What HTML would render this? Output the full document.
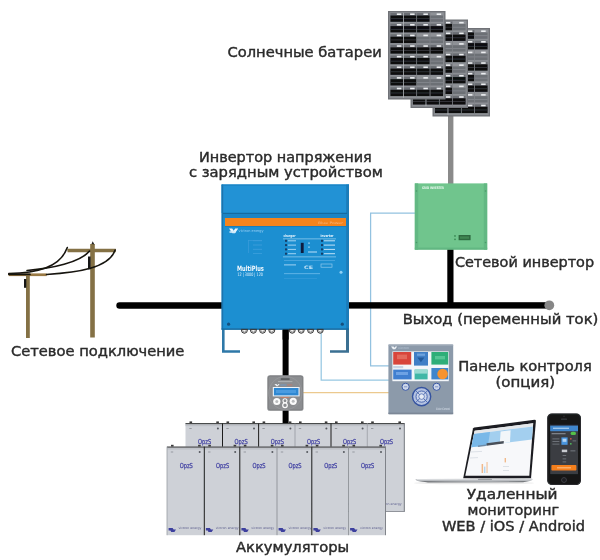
<!DOCTYPE html>
<html lang="ru"><head><meta charset="utf-8"><title>Схема</title>
<style>
html,body{margin:0;padding:0;background:#fff;}
body{width:600px;height:560px;overflow:hidden;position:relative;}
svg{position:absolute;left:0;top:0;display:block;}
text{font-family:"DejaVu Sans","Liberation Sans",sans-serif;}
.lbl{font-size:13.6px;fill:#2a2a2a;stroke:#2a2a2a;stroke-width:0.4px;}
</style></head><body>
<svg width="600" height="560" viewBox="0 0 600 560">
<defs>
<filter id="soft" x="-5%" y="-5%" width="110%" height="110%"><feGaussianBlur stdDeviation="0.45"/></filter>
<filter id="softt" x="-5%" y="-20%" width="110%" height="140%"><feGaussianBlur stdDeviation="0.32"/></filter>
</defs>
<rect width="600" height="560" fill="#ffffff"/>

<g fill="none" stroke-width="1.25" filter="url(#soft)">
<path d="M415 213.2H370.6V365.8H389" stroke="#93c2e0"/>
<path d="M321.2 330V380H389" stroke="#97c8e2"/>
<path d="M303 392.5H389" stroke="#ecc98e"/>
</g>
<g filter="url(#soft)">
<rect x="448" y="112" width="5.4" height="73" fill="#8a8a8a"/>
<path d="M119.5 305.5H223" stroke="#000" stroke-width="6.4" stroke-linecap="round" fill="none"/>
<rect x="348" y="302.2" width="198" height="6.4" fill="#000"/>
<circle cx="549.3" cy="305.3" r="4.9" fill="#878787"/>
<rect x="447.3" y="248" width="6.2" height="57" fill="#000"/>
<rect x="282.6" y="329" width="6" height="95" fill="#000"/>
</g>
<g filter="url(#soft)">
<g transform="translate(432.5,28)"><rect x="0" y="0" width="57.5" height="88.5" fill="#6f7277"/><rect x="1.3" y="1.3" width="54.9" height="85.9" fill="#8b8e93"/><rect x="2.40" y="2.00" width="12.88" height="2.7" fill="#6a6d73"/><rect x="2.40" y="4.50" width="12.88" height="6.3" fill="#0b0c0f"/><rect x="2.40" y="7.30" width="12.88" height="0.8" fill="#3a3d42"/><rect x="8.84" y="2.40" width="4.51" height="1.6" fill="#eceef0"/><rect x="15.68" y="2.00" width="12.88" height="2.7" fill="#6a6d73"/><rect x="15.68" y="4.50" width="12.88" height="6.3" fill="#0b0c0f"/><rect x="15.68" y="7.30" width="12.88" height="0.8" fill="#3a3d42"/><rect x="22.11" y="2.40" width="4.51" height="1.6" fill="#eceef0"/><rect x="28.95" y="2.00" width="12.88" height="2.7" fill="#6a6d73"/><rect x="28.95" y="4.50" width="12.88" height="6.3" fill="#0b0c0f"/><rect x="28.95" y="7.30" width="12.88" height="0.8" fill="#3a3d42"/><rect x="35.39" y="2.40" width="4.51" height="1.6" fill="#eceef0"/><rect x="42.23" y="2.00" width="12.88" height="2.7" fill="#8f9297"/><rect x="42.23" y="4.50" width="12.88" height="6.3" fill="#6c6f75"/><rect x="42.23" y="7.30" width="12.88" height="0.8" fill="#878a90"/><rect x="48.66" y="2.40" width="4.51" height="1.6" fill="#eceef0"/><rect x="2.40" y="12.61" width="12.88" height="2.7" fill="#6a6d73"/><rect x="2.40" y="15.11" width="12.88" height="6.3" fill="#0b0c0f"/><rect x="2.40" y="17.91" width="12.88" height="0.8" fill="#3a3d42"/><rect x="8.84" y="13.01" width="4.51" height="1.6" fill="#eceef0"/><rect x="15.68" y="12.61" width="12.88" height="2.7" fill="#6a6d73"/><rect x="15.68" y="15.11" width="12.88" height="6.3" fill="#0b0c0f"/><rect x="15.68" y="17.91" width="12.88" height="0.8" fill="#3a3d42"/><rect x="22.11" y="13.01" width="4.51" height="1.6" fill="#eceef0"/><rect x="28.95" y="12.61" width="12.88" height="2.7" fill="#6a6d73"/><rect x="28.95" y="15.11" width="12.88" height="6.3" fill="#0b0c0f"/><rect x="28.95" y="17.91" width="12.88" height="0.8" fill="#3a3d42"/><rect x="35.39" y="13.01" width="4.51" height="1.6" fill="#eceef0"/><rect x="42.23" y="12.61" width="12.88" height="2.7" fill="#6a6d73"/><rect x="42.23" y="15.11" width="12.88" height="6.3" fill="#0b0c0f"/><rect x="42.23" y="17.91" width="12.88" height="0.8" fill="#3a3d42"/><rect x="48.66" y="13.01" width="4.51" height="1.6" fill="#eceef0"/><rect x="2.40" y="23.23" width="12.88" height="2.7" fill="#6a6d73"/><rect x="2.40" y="25.73" width="12.88" height="6.3" fill="#0b0c0f"/><rect x="2.40" y="28.53" width="12.88" height="0.8" fill="#3a3d42"/><rect x="8.84" y="23.63" width="4.51" height="1.6" fill="#eceef0"/><rect x="15.68" y="23.23" width="12.88" height="2.7" fill="#6a6d73"/><rect x="15.68" y="25.73" width="12.88" height="6.3" fill="#0b0c0f"/><rect x="15.68" y="28.53" width="12.88" height="0.8" fill="#3a3d42"/><rect x="22.11" y="23.63" width="4.51" height="1.6" fill="#eceef0"/><rect x="28.95" y="23.23" width="12.88" height="2.7" fill="#8f9297"/><rect x="28.95" y="25.73" width="12.88" height="6.3" fill="#6c6f75"/><rect x="28.95" y="28.53" width="12.88" height="0.8" fill="#878a90"/><rect x="35.39" y="23.63" width="4.51" height="1.6" fill="#eceef0"/><rect x="42.23" y="23.23" width="12.88" height="2.7" fill="#8f9297"/><rect x="42.23" y="25.73" width="12.88" height="6.3" fill="#6c6f75"/><rect x="42.23" y="28.53" width="12.88" height="0.8" fill="#878a90"/><rect x="48.66" y="23.63" width="4.51" height="1.6" fill="#eceef0"/><rect x="2.40" y="33.84" width="12.88" height="2.7" fill="#6a6d73"/><rect x="2.40" y="36.34" width="12.88" height="6.3" fill="#0b0c0f"/><rect x="2.40" y="39.14" width="12.88" height="0.8" fill="#3a3d42"/><rect x="8.84" y="34.24" width="4.51" height="1.6" fill="#eceef0"/><rect x="15.68" y="33.84" width="12.88" height="2.7" fill="#6a6d73"/><rect x="15.68" y="36.34" width="12.88" height="6.3" fill="#0b0c0f"/><rect x="15.68" y="39.14" width="12.88" height="0.8" fill="#3a3d42"/><rect x="22.11" y="34.24" width="4.51" height="1.6" fill="#eceef0"/><rect x="28.95" y="33.84" width="12.88" height="2.7" fill="#6a6d73"/><rect x="28.95" y="36.34" width="12.88" height="6.3" fill="#0b0c0f"/><rect x="28.95" y="39.14" width="12.88" height="0.8" fill="#3a3d42"/><rect x="35.39" y="34.24" width="4.51" height="1.6" fill="#eceef0"/><rect x="42.23" y="33.84" width="12.88" height="2.7" fill="#6a6d73"/><rect x="42.23" y="36.34" width="12.88" height="6.3" fill="#0b0c0f"/><rect x="42.23" y="39.14" width="12.88" height="0.8" fill="#3a3d42"/><rect x="48.66" y="34.24" width="4.51" height="1.6" fill="#eceef0"/><rect x="2.40" y="44.45" width="12.88" height="2.7" fill="#6a6d73"/><rect x="2.40" y="46.95" width="12.88" height="6.3" fill="#0b0c0f"/><rect x="2.40" y="49.75" width="12.88" height="0.8" fill="#3a3d42"/><rect x="8.84" y="44.85" width="4.51" height="1.6" fill="#eceef0"/><rect x="15.68" y="44.45" width="12.88" height="2.7" fill="#6a6d73"/><rect x="15.68" y="46.95" width="12.88" height="6.3" fill="#0b0c0f"/><rect x="15.68" y="49.75" width="12.88" height="0.8" fill="#3a3d42"/><rect x="22.11" y="44.85" width="4.51" height="1.6" fill="#eceef0"/><rect x="28.95" y="44.45" width="12.88" height="2.7" fill="#6a6d73"/><rect x="28.95" y="46.95" width="12.88" height="6.3" fill="#0b0c0f"/><rect x="28.95" y="49.75" width="12.88" height="0.8" fill="#3a3d42"/><rect x="35.39" y="44.85" width="4.51" height="1.6" fill="#eceef0"/><rect x="42.23" y="44.45" width="12.88" height="2.7" fill="#8f9297"/><rect x="42.23" y="46.95" width="12.88" height="6.3" fill="#6c6f75"/><rect x="42.23" y="49.75" width="12.88" height="0.8" fill="#878a90"/><rect x="48.66" y="44.85" width="4.51" height="1.6" fill="#eceef0"/><rect x="2.40" y="55.06" width="12.88" height="2.7" fill="#6a6d73"/><rect x="2.40" y="57.56" width="12.88" height="6.3" fill="#0b0c0f"/><rect x="2.40" y="60.36" width="12.88" height="0.8" fill="#3a3d42"/><rect x="8.84" y="55.46" width="4.51" height="1.6" fill="#eceef0"/><rect x="15.68" y="55.06" width="12.88" height="2.7" fill="#6a6d73"/><rect x="15.68" y="57.56" width="12.88" height="6.3" fill="#0b0c0f"/><rect x="15.68" y="60.36" width="12.88" height="0.8" fill="#3a3d42"/><rect x="22.11" y="55.46" width="4.51" height="1.6" fill="#eceef0"/><rect x="28.95" y="55.06" width="12.88" height="2.7" fill="#6a6d73"/><rect x="28.95" y="57.56" width="12.88" height="6.3" fill="#0b0c0f"/><rect x="28.95" y="60.36" width="12.88" height="0.8" fill="#3a3d42"/><rect x="35.39" y="55.46" width="4.51" height="1.6" fill="#eceef0"/><rect x="42.23" y="55.06" width="12.88" height="2.7" fill="#6a6d73"/><rect x="42.23" y="57.56" width="12.88" height="6.3" fill="#0b0c0f"/><rect x="42.23" y="60.36" width="12.88" height="0.8" fill="#3a3d42"/><rect x="48.66" y="55.46" width="4.51" height="1.6" fill="#eceef0"/><rect x="2.40" y="65.68" width="12.88" height="2.7" fill="#6a6d73"/><rect x="2.40" y="68.18" width="12.88" height="6.3" fill="#0b0c0f"/><rect x="2.40" y="70.98" width="12.88" height="0.8" fill="#3a3d42"/><rect x="8.84" y="66.08" width="4.51" height="1.6" fill="#eceef0"/><rect x="15.68" y="65.68" width="12.88" height="2.7" fill="#6a6d73"/><rect x="15.68" y="68.18" width="12.88" height="6.3" fill="#0b0c0f"/><rect x="15.68" y="70.98" width="12.88" height="0.8" fill="#3a3d42"/><rect x="22.11" y="66.08" width="4.51" height="1.6" fill="#eceef0"/><rect x="28.95" y="65.68" width="12.88" height="2.7" fill="#8f9297"/><rect x="28.95" y="68.18" width="12.88" height="6.3" fill="#6c6f75"/><rect x="28.95" y="70.98" width="12.88" height="0.8" fill="#878a90"/><rect x="35.39" y="66.08" width="4.51" height="1.6" fill="#eceef0"/><rect x="42.23" y="65.68" width="12.88" height="2.7" fill="#8f9297"/><rect x="42.23" y="68.18" width="12.88" height="6.3" fill="#6c6f75"/><rect x="42.23" y="70.98" width="12.88" height="0.8" fill="#878a90"/><rect x="48.66" y="66.08" width="4.51" height="1.6" fill="#eceef0"/><rect x="2.40" y="76.29" width="12.88" height="2.7" fill="#6a6d73"/><rect x="2.40" y="78.79" width="12.88" height="6.3" fill="#0b0c0f"/><rect x="2.40" y="81.59" width="12.88" height="0.8" fill="#3a3d42"/><rect x="8.84" y="76.69" width="4.51" height="1.6" fill="#eceef0"/><rect x="15.68" y="76.29" width="12.88" height="2.7" fill="#6a6d73"/><rect x="15.68" y="78.79" width="12.88" height="6.3" fill="#0b0c0f"/><rect x="15.68" y="81.59" width="12.88" height="0.8" fill="#3a3d42"/><rect x="22.11" y="76.69" width="4.51" height="1.6" fill="#eceef0"/><rect x="28.95" y="76.29" width="12.88" height="2.7" fill="#6a6d73"/><rect x="28.95" y="78.79" width="12.88" height="6.3" fill="#0b0c0f"/><rect x="28.95" y="81.59" width="12.88" height="0.8" fill="#3a3d42"/><rect x="35.39" y="76.69" width="4.51" height="1.6" fill="#eceef0"/><rect x="42.23" y="76.29" width="12.88" height="2.7" fill="#6a6d73"/><rect x="42.23" y="78.79" width="12.88" height="6.3" fill="#0b0c0f"/><rect x="42.23" y="81.59" width="12.88" height="0.8" fill="#3a3d42"/><rect x="48.66" y="76.69" width="4.51" height="1.6" fill="#eceef0"/><rect x="15.18" y="1.8" width="0.6" height="84.9" fill="#c4c7ca"/><rect x="28.45" y="1.8" width="0.6" height="84.9" fill="#7f8287"/><rect x="41.73" y="1.8" width="0.6" height="84.9" fill="#7f8287"/></g>
<g transform="translate(410.5,19.5)"><rect x="0" y="0" width="57.5" height="88.5" fill="#6f7277"/><rect x="1.3" y="1.3" width="54.9" height="85.9" fill="#8b8e93"/><rect x="2.40" y="2.00" width="12.88" height="2.7" fill="#6a6d73"/><rect x="2.40" y="4.50" width="12.88" height="6.3" fill="#0b0c0f"/><rect x="2.40" y="7.30" width="12.88" height="0.8" fill="#3a3d42"/><rect x="8.84" y="2.40" width="4.51" height="1.6" fill="#eceef0"/><rect x="15.68" y="2.00" width="12.88" height="2.7" fill="#6a6d73"/><rect x="15.68" y="4.50" width="12.88" height="6.3" fill="#0b0c0f"/><rect x="15.68" y="7.30" width="12.88" height="0.8" fill="#3a3d42"/><rect x="22.11" y="2.40" width="4.51" height="1.6" fill="#eceef0"/><rect x="28.95" y="2.00" width="12.88" height="2.7" fill="#6a6d73"/><rect x="28.95" y="4.50" width="12.88" height="6.3" fill="#0b0c0f"/><rect x="28.95" y="7.30" width="12.88" height="0.8" fill="#3a3d42"/><rect x="35.39" y="2.40" width="4.51" height="1.6" fill="#eceef0"/><rect x="42.23" y="2.00" width="12.88" height="2.7" fill="#8f9297"/><rect x="42.23" y="4.50" width="12.88" height="6.3" fill="#6c6f75"/><rect x="42.23" y="7.30" width="12.88" height="0.8" fill="#878a90"/><rect x="48.66" y="2.40" width="4.51" height="1.6" fill="#eceef0"/><rect x="2.40" y="12.61" width="12.88" height="2.7" fill="#6a6d73"/><rect x="2.40" y="15.11" width="12.88" height="6.3" fill="#0b0c0f"/><rect x="2.40" y="17.91" width="12.88" height="0.8" fill="#3a3d42"/><rect x="8.84" y="13.01" width="4.51" height="1.6" fill="#eceef0"/><rect x="15.68" y="12.61" width="12.88" height="2.7" fill="#6a6d73"/><rect x="15.68" y="15.11" width="12.88" height="6.3" fill="#0b0c0f"/><rect x="15.68" y="17.91" width="12.88" height="0.8" fill="#3a3d42"/><rect x="22.11" y="13.01" width="4.51" height="1.6" fill="#eceef0"/><rect x="28.95" y="12.61" width="12.88" height="2.7" fill="#6a6d73"/><rect x="28.95" y="15.11" width="12.88" height="6.3" fill="#0b0c0f"/><rect x="28.95" y="17.91" width="12.88" height="0.8" fill="#3a3d42"/><rect x="35.39" y="13.01" width="4.51" height="1.6" fill="#eceef0"/><rect x="42.23" y="12.61" width="12.88" height="2.7" fill="#6a6d73"/><rect x="42.23" y="15.11" width="12.88" height="6.3" fill="#0b0c0f"/><rect x="42.23" y="17.91" width="12.88" height="0.8" fill="#3a3d42"/><rect x="48.66" y="13.01" width="4.51" height="1.6" fill="#eceef0"/><rect x="2.40" y="23.23" width="12.88" height="2.7" fill="#6a6d73"/><rect x="2.40" y="25.73" width="12.88" height="6.3" fill="#0b0c0f"/><rect x="2.40" y="28.53" width="12.88" height="0.8" fill="#3a3d42"/><rect x="8.84" y="23.63" width="4.51" height="1.6" fill="#eceef0"/><rect x="15.68" y="23.23" width="12.88" height="2.7" fill="#6a6d73"/><rect x="15.68" y="25.73" width="12.88" height="6.3" fill="#0b0c0f"/><rect x="15.68" y="28.53" width="12.88" height="0.8" fill="#3a3d42"/><rect x="22.11" y="23.63" width="4.51" height="1.6" fill="#eceef0"/><rect x="28.95" y="23.23" width="12.88" height="2.7" fill="#8f9297"/><rect x="28.95" y="25.73" width="12.88" height="6.3" fill="#6c6f75"/><rect x="28.95" y="28.53" width="12.88" height="0.8" fill="#878a90"/><rect x="35.39" y="23.63" width="4.51" height="1.6" fill="#eceef0"/><rect x="42.23" y="23.23" width="12.88" height="2.7" fill="#8f9297"/><rect x="42.23" y="25.73" width="12.88" height="6.3" fill="#6c6f75"/><rect x="42.23" y="28.53" width="12.88" height="0.8" fill="#878a90"/><rect x="48.66" y="23.63" width="4.51" height="1.6" fill="#eceef0"/><rect x="2.40" y="33.84" width="12.88" height="2.7" fill="#6a6d73"/><rect x="2.40" y="36.34" width="12.88" height="6.3" fill="#0b0c0f"/><rect x="2.40" y="39.14" width="12.88" height="0.8" fill="#3a3d42"/><rect x="8.84" y="34.24" width="4.51" height="1.6" fill="#eceef0"/><rect x="15.68" y="33.84" width="12.88" height="2.7" fill="#6a6d73"/><rect x="15.68" y="36.34" width="12.88" height="6.3" fill="#0b0c0f"/><rect x="15.68" y="39.14" width="12.88" height="0.8" fill="#3a3d42"/><rect x="22.11" y="34.24" width="4.51" height="1.6" fill="#eceef0"/><rect x="28.95" y="33.84" width="12.88" height="2.7" fill="#6a6d73"/><rect x="28.95" y="36.34" width="12.88" height="6.3" fill="#0b0c0f"/><rect x="28.95" y="39.14" width="12.88" height="0.8" fill="#3a3d42"/><rect x="35.39" y="34.24" width="4.51" height="1.6" fill="#eceef0"/><rect x="42.23" y="33.84" width="12.88" height="2.7" fill="#6a6d73"/><rect x="42.23" y="36.34" width="12.88" height="6.3" fill="#0b0c0f"/><rect x="42.23" y="39.14" width="12.88" height="0.8" fill="#3a3d42"/><rect x="48.66" y="34.24" width="4.51" height="1.6" fill="#eceef0"/><rect x="2.40" y="44.45" width="12.88" height="2.7" fill="#6a6d73"/><rect x="2.40" y="46.95" width="12.88" height="6.3" fill="#0b0c0f"/><rect x="2.40" y="49.75" width="12.88" height="0.8" fill="#3a3d42"/><rect x="8.84" y="44.85" width="4.51" height="1.6" fill="#eceef0"/><rect x="15.68" y="44.45" width="12.88" height="2.7" fill="#6a6d73"/><rect x="15.68" y="46.95" width="12.88" height="6.3" fill="#0b0c0f"/><rect x="15.68" y="49.75" width="12.88" height="0.8" fill="#3a3d42"/><rect x="22.11" y="44.85" width="4.51" height="1.6" fill="#eceef0"/><rect x="28.95" y="44.45" width="12.88" height="2.7" fill="#6a6d73"/><rect x="28.95" y="46.95" width="12.88" height="6.3" fill="#0b0c0f"/><rect x="28.95" y="49.75" width="12.88" height="0.8" fill="#3a3d42"/><rect x="35.39" y="44.85" width="4.51" height="1.6" fill="#eceef0"/><rect x="42.23" y="44.45" width="12.88" height="2.7" fill="#8f9297"/><rect x="42.23" y="46.95" width="12.88" height="6.3" fill="#6c6f75"/><rect x="42.23" y="49.75" width="12.88" height="0.8" fill="#878a90"/><rect x="48.66" y="44.85" width="4.51" height="1.6" fill="#eceef0"/><rect x="2.40" y="55.06" width="12.88" height="2.7" fill="#6a6d73"/><rect x="2.40" y="57.56" width="12.88" height="6.3" fill="#0b0c0f"/><rect x="2.40" y="60.36" width="12.88" height="0.8" fill="#3a3d42"/><rect x="8.84" y="55.46" width="4.51" height="1.6" fill="#eceef0"/><rect x="15.68" y="55.06" width="12.88" height="2.7" fill="#6a6d73"/><rect x="15.68" y="57.56" width="12.88" height="6.3" fill="#0b0c0f"/><rect x="15.68" y="60.36" width="12.88" height="0.8" fill="#3a3d42"/><rect x="22.11" y="55.46" width="4.51" height="1.6" fill="#eceef0"/><rect x="28.95" y="55.06" width="12.88" height="2.7" fill="#6a6d73"/><rect x="28.95" y="57.56" width="12.88" height="6.3" fill="#0b0c0f"/><rect x="28.95" y="60.36" width="12.88" height="0.8" fill="#3a3d42"/><rect x="35.39" y="55.46" width="4.51" height="1.6" fill="#eceef0"/><rect x="42.23" y="55.06" width="12.88" height="2.7" fill="#6a6d73"/><rect x="42.23" y="57.56" width="12.88" height="6.3" fill="#0b0c0f"/><rect x="42.23" y="60.36" width="12.88" height="0.8" fill="#3a3d42"/><rect x="48.66" y="55.46" width="4.51" height="1.6" fill="#eceef0"/><rect x="2.40" y="65.68" width="12.88" height="2.7" fill="#6a6d73"/><rect x="2.40" y="68.18" width="12.88" height="6.3" fill="#0b0c0f"/><rect x="2.40" y="70.98" width="12.88" height="0.8" fill="#3a3d42"/><rect x="8.84" y="66.08" width="4.51" height="1.6" fill="#eceef0"/><rect x="15.68" y="65.68" width="12.88" height="2.7" fill="#6a6d73"/><rect x="15.68" y="68.18" width="12.88" height="6.3" fill="#0b0c0f"/><rect x="15.68" y="70.98" width="12.88" height="0.8" fill="#3a3d42"/><rect x="22.11" y="66.08" width="4.51" height="1.6" fill="#eceef0"/><rect x="28.95" y="65.68" width="12.88" height="2.7" fill="#6a6d73"/><rect x="28.95" y="68.18" width="12.88" height="6.3" fill="#0b0c0f"/><rect x="28.95" y="70.98" width="12.88" height="0.8" fill="#3a3d42"/><rect x="35.39" y="66.08" width="4.51" height="1.6" fill="#eceef0"/><rect x="42.23" y="65.68" width="12.88" height="2.7" fill="#8f9297"/><rect x="42.23" y="68.18" width="12.88" height="6.3" fill="#6c6f75"/><rect x="42.23" y="70.98" width="12.88" height="0.8" fill="#878a90"/><rect x="48.66" y="66.08" width="4.51" height="1.6" fill="#eceef0"/><rect x="2.40" y="76.29" width="12.88" height="2.7" fill="#6a6d73"/><rect x="2.40" y="78.79" width="12.88" height="6.3" fill="#0b0c0f"/><rect x="2.40" y="81.59" width="12.88" height="0.8" fill="#3a3d42"/><rect x="8.84" y="76.69" width="4.51" height="1.6" fill="#eceef0"/><rect x="15.68" y="76.29" width="12.88" height="2.7" fill="#6a6d73"/><rect x="15.68" y="78.79" width="12.88" height="6.3" fill="#0b0c0f"/><rect x="15.68" y="81.59" width="12.88" height="0.8" fill="#3a3d42"/><rect x="22.11" y="76.69" width="4.51" height="1.6" fill="#eceef0"/><rect x="28.95" y="76.29" width="12.88" height="2.7" fill="#6a6d73"/><rect x="28.95" y="78.79" width="12.88" height="6.3" fill="#0b0c0f"/><rect x="28.95" y="81.59" width="12.88" height="0.8" fill="#3a3d42"/><rect x="35.39" y="76.69" width="4.51" height="1.6" fill="#eceef0"/><rect x="42.23" y="76.29" width="12.88" height="2.7" fill="#6a6d73"/><rect x="42.23" y="78.79" width="12.88" height="6.3" fill="#0b0c0f"/><rect x="42.23" y="81.59" width="12.88" height="0.8" fill="#3a3d42"/><rect x="48.66" y="76.69" width="4.51" height="1.6" fill="#eceef0"/><rect x="15.18" y="1.8" width="0.6" height="84.9" fill="#c4c7ca"/><rect x="28.45" y="1.8" width="0.6" height="84.9" fill="#7f8287"/><rect x="41.73" y="1.8" width="0.6" height="84.9" fill="#7f8287"/></g>
<g transform="translate(388,11)"><rect x="0" y="0" width="57.5" height="88.5" fill="#6f7277"/><rect x="1.3" y="1.3" width="54.9" height="85.9" fill="#8b8e93"/><rect x="2.40" y="2.00" width="12.88" height="2.7" fill="#6a6d73"/><rect x="2.40" y="4.50" width="12.88" height="6.3" fill="#0b0c0f"/><rect x="2.40" y="7.30" width="12.88" height="0.8" fill="#3a3d42"/><rect x="8.84" y="2.40" width="4.51" height="1.6" fill="#eceef0"/><rect x="15.68" y="2.00" width="12.88" height="2.7" fill="#6a6d73"/><rect x="15.68" y="4.50" width="12.88" height="6.3" fill="#0b0c0f"/><rect x="15.68" y="7.30" width="12.88" height="0.8" fill="#3a3d42"/><rect x="22.11" y="2.40" width="4.51" height="1.6" fill="#eceef0"/><rect x="28.95" y="2.00" width="12.88" height="2.7" fill="#6a6d73"/><rect x="28.95" y="4.50" width="12.88" height="6.3" fill="#0b0c0f"/><rect x="28.95" y="7.30" width="12.88" height="0.8" fill="#3a3d42"/><rect x="35.39" y="2.40" width="4.51" height="1.6" fill="#eceef0"/><rect x="42.23" y="2.00" width="12.88" height="2.7" fill="#8f9297"/><rect x="42.23" y="4.50" width="12.88" height="6.3" fill="#6c6f75"/><rect x="42.23" y="7.30" width="12.88" height="0.8" fill="#878a90"/><rect x="48.66" y="2.40" width="4.51" height="1.6" fill="#eceef0"/><rect x="2.40" y="12.61" width="12.88" height="2.7" fill="#6a6d73"/><rect x="2.40" y="15.11" width="12.88" height="6.3" fill="#0b0c0f"/><rect x="2.40" y="17.91" width="12.88" height="0.8" fill="#3a3d42"/><rect x="8.84" y="13.01" width="4.51" height="1.6" fill="#eceef0"/><rect x="15.68" y="12.61" width="12.88" height="2.7" fill="#6a6d73"/><rect x="15.68" y="15.11" width="12.88" height="6.3" fill="#0b0c0f"/><rect x="15.68" y="17.91" width="12.88" height="0.8" fill="#3a3d42"/><rect x="22.11" y="13.01" width="4.51" height="1.6" fill="#eceef0"/><rect x="28.95" y="12.61" width="12.88" height="2.7" fill="#6a6d73"/><rect x="28.95" y="15.11" width="12.88" height="6.3" fill="#0b0c0f"/><rect x="28.95" y="17.91" width="12.88" height="0.8" fill="#3a3d42"/><rect x="35.39" y="13.01" width="4.51" height="1.6" fill="#eceef0"/><rect x="42.23" y="12.61" width="12.88" height="2.7" fill="#6a6d73"/><rect x="42.23" y="15.11" width="12.88" height="6.3" fill="#0b0c0f"/><rect x="42.23" y="17.91" width="12.88" height="0.8" fill="#3a3d42"/><rect x="48.66" y="13.01" width="4.51" height="1.6" fill="#eceef0"/><rect x="2.40" y="23.23" width="12.88" height="2.7" fill="#6a6d73"/><rect x="2.40" y="25.73" width="12.88" height="6.3" fill="#0b0c0f"/><rect x="2.40" y="28.53" width="12.88" height="0.8" fill="#3a3d42"/><rect x="8.84" y="23.63" width="4.51" height="1.6" fill="#eceef0"/><rect x="15.68" y="23.23" width="12.88" height="2.7" fill="#6a6d73"/><rect x="15.68" y="25.73" width="12.88" height="6.3" fill="#0b0c0f"/><rect x="15.68" y="28.53" width="12.88" height="0.8" fill="#3a3d42"/><rect x="22.11" y="23.63" width="4.51" height="1.6" fill="#eceef0"/><rect x="28.95" y="23.23" width="12.88" height="2.7" fill="#8f9297"/><rect x="28.95" y="25.73" width="12.88" height="6.3" fill="#6c6f75"/><rect x="28.95" y="28.53" width="12.88" height="0.8" fill="#878a90"/><rect x="35.39" y="23.63" width="4.51" height="1.6" fill="#eceef0"/><rect x="42.23" y="23.23" width="12.88" height="2.7" fill="#8f9297"/><rect x="42.23" y="25.73" width="12.88" height="6.3" fill="#6c6f75"/><rect x="42.23" y="28.53" width="12.88" height="0.8" fill="#878a90"/><rect x="48.66" y="23.63" width="4.51" height="1.6" fill="#eceef0"/><rect x="2.40" y="33.84" width="12.88" height="2.7" fill="#6a6d73"/><rect x="2.40" y="36.34" width="12.88" height="6.3" fill="#0b0c0f"/><rect x="2.40" y="39.14" width="12.88" height="0.8" fill="#3a3d42"/><rect x="8.84" y="34.24" width="4.51" height="1.6" fill="#eceef0"/><rect x="15.68" y="33.84" width="12.88" height="2.7" fill="#6a6d73"/><rect x="15.68" y="36.34" width="12.88" height="6.3" fill="#0b0c0f"/><rect x="15.68" y="39.14" width="12.88" height="0.8" fill="#3a3d42"/><rect x="22.11" y="34.24" width="4.51" height="1.6" fill="#eceef0"/><rect x="28.95" y="33.84" width="12.88" height="2.7" fill="#6a6d73"/><rect x="28.95" y="36.34" width="12.88" height="6.3" fill="#0b0c0f"/><rect x="28.95" y="39.14" width="12.88" height="0.8" fill="#3a3d42"/><rect x="35.39" y="34.24" width="4.51" height="1.6" fill="#eceef0"/><rect x="42.23" y="33.84" width="12.88" height="2.7" fill="#6a6d73"/><rect x="42.23" y="36.34" width="12.88" height="6.3" fill="#0b0c0f"/><rect x="42.23" y="39.14" width="12.88" height="0.8" fill="#3a3d42"/><rect x="48.66" y="34.24" width="4.51" height="1.6" fill="#eceef0"/><rect x="2.40" y="44.45" width="12.88" height="2.7" fill="#6a6d73"/><rect x="2.40" y="46.95" width="12.88" height="6.3" fill="#0b0c0f"/><rect x="2.40" y="49.75" width="12.88" height="0.8" fill="#3a3d42"/><rect x="8.84" y="44.85" width="4.51" height="1.6" fill="#eceef0"/><rect x="15.68" y="44.45" width="12.88" height="2.7" fill="#6a6d73"/><rect x="15.68" y="46.95" width="12.88" height="6.3" fill="#0b0c0f"/><rect x="15.68" y="49.75" width="12.88" height="0.8" fill="#3a3d42"/><rect x="22.11" y="44.85" width="4.51" height="1.6" fill="#eceef0"/><rect x="28.95" y="44.45" width="12.88" height="2.7" fill="#6a6d73"/><rect x="28.95" y="46.95" width="12.88" height="6.3" fill="#0b0c0f"/><rect x="28.95" y="49.75" width="12.88" height="0.8" fill="#3a3d42"/><rect x="35.39" y="44.85" width="4.51" height="1.6" fill="#eceef0"/><rect x="42.23" y="44.45" width="12.88" height="2.7" fill="#8f9297"/><rect x="42.23" y="46.95" width="12.88" height="6.3" fill="#6c6f75"/><rect x="42.23" y="49.75" width="12.88" height="0.8" fill="#878a90"/><rect x="48.66" y="44.85" width="4.51" height="1.6" fill="#eceef0"/><rect x="2.40" y="55.06" width="12.88" height="2.7" fill="#6a6d73"/><rect x="2.40" y="57.56" width="12.88" height="6.3" fill="#0b0c0f"/><rect x="2.40" y="60.36" width="12.88" height="0.8" fill="#3a3d42"/><rect x="8.84" y="55.46" width="4.51" height="1.6" fill="#eceef0"/><rect x="15.68" y="55.06" width="12.88" height="2.7" fill="#6a6d73"/><rect x="15.68" y="57.56" width="12.88" height="6.3" fill="#0b0c0f"/><rect x="15.68" y="60.36" width="12.88" height="0.8" fill="#3a3d42"/><rect x="22.11" y="55.46" width="4.51" height="1.6" fill="#eceef0"/><rect x="28.95" y="55.06" width="12.88" height="2.7" fill="#6a6d73"/><rect x="28.95" y="57.56" width="12.88" height="6.3" fill="#0b0c0f"/><rect x="28.95" y="60.36" width="12.88" height="0.8" fill="#3a3d42"/><rect x="35.39" y="55.46" width="4.51" height="1.6" fill="#eceef0"/><rect x="42.23" y="55.06" width="12.88" height="2.7" fill="#6a6d73"/><rect x="42.23" y="57.56" width="12.88" height="6.3" fill="#0b0c0f"/><rect x="42.23" y="60.36" width="12.88" height="0.8" fill="#3a3d42"/><rect x="48.66" y="55.46" width="4.51" height="1.6" fill="#eceef0"/><rect x="2.40" y="65.68" width="12.88" height="2.7" fill="#6a6d73"/><rect x="2.40" y="68.18" width="12.88" height="6.3" fill="#0b0c0f"/><rect x="2.40" y="70.98" width="12.88" height="0.8" fill="#3a3d42"/><rect x="8.84" y="66.08" width="4.51" height="1.6" fill="#eceef0"/><rect x="15.68" y="65.68" width="12.88" height="2.7" fill="#6a6d73"/><rect x="15.68" y="68.18" width="12.88" height="6.3" fill="#0b0c0f"/><rect x="15.68" y="70.98" width="12.88" height="0.8" fill="#3a3d42"/><rect x="22.11" y="66.08" width="4.51" height="1.6" fill="#eceef0"/><rect x="28.95" y="65.68" width="12.88" height="2.7" fill="#8f9297"/><rect x="28.95" y="68.18" width="12.88" height="6.3" fill="#6c6f75"/><rect x="28.95" y="70.98" width="12.88" height="0.8" fill="#878a90"/><rect x="35.39" y="66.08" width="4.51" height="1.6" fill="#eceef0"/><rect x="42.23" y="65.68" width="12.88" height="2.7" fill="#8f9297"/><rect x="42.23" y="68.18" width="12.88" height="6.3" fill="#6c6f75"/><rect x="42.23" y="70.98" width="12.88" height="0.8" fill="#878a90"/><rect x="48.66" y="66.08" width="4.51" height="1.6" fill="#eceef0"/><rect x="2.40" y="76.29" width="12.88" height="2.7" fill="#6a6d73"/><rect x="2.40" y="78.79" width="12.88" height="6.3" fill="#0b0c0f"/><rect x="2.40" y="81.59" width="12.88" height="0.8" fill="#3a3d42"/><rect x="8.84" y="76.69" width="4.51" height="1.6" fill="#eceef0"/><rect x="15.68" y="76.29" width="12.88" height="2.7" fill="#6a6d73"/><rect x="15.68" y="78.79" width="12.88" height="6.3" fill="#0b0c0f"/><rect x="15.68" y="81.59" width="12.88" height="0.8" fill="#3a3d42"/><rect x="22.11" y="76.69" width="4.51" height="1.6" fill="#eceef0"/><rect x="28.95" y="76.29" width="12.88" height="2.7" fill="#6a6d73"/><rect x="28.95" y="78.79" width="12.88" height="6.3" fill="#0b0c0f"/><rect x="28.95" y="81.59" width="12.88" height="0.8" fill="#3a3d42"/><rect x="35.39" y="76.69" width="4.51" height="1.6" fill="#eceef0"/><rect x="42.23" y="76.29" width="12.88" height="2.7" fill="#6a6d73"/><rect x="42.23" y="78.79" width="12.88" height="6.3" fill="#0b0c0f"/><rect x="42.23" y="81.59" width="12.88" height="0.8" fill="#3a3d42"/><rect x="48.66" y="76.69" width="4.51" height="1.6" fill="#eceef0"/><rect x="15.18" y="1.8" width="0.6" height="84.9" fill="#c4c7ca"/><rect x="28.45" y="1.8" width="0.6" height="84.9" fill="#7f8287"/><rect x="41.73" y="1.8" width="0.6" height="84.9" fill="#7f8287"/></g>
</g>
<g filter="url(#soft)">
<rect x="90.2" y="244" width="4.6" height="93.5" fill="#847145"/>
<path d="M67.2 248.8 L115.8 248.8 L115.8 252.2 L67.6 252.2 Z" fill="#847145"/>
<path d="M91.5 244 L92.7 241.2 L94.4 244.4 Z" fill="#222"/>
<rect x="26" y="275" width="3.8" height="63" fill="#847145"/>
<rect x="8.7" y="273.4" width="38" height="2.7" fill="#9a7a45"/>
<rect x="88" y="256.5" width="2.6" height="12.8" fill="#161616"/>
<rect x="24" y="279" width="2.3" height="8.8" fill="#161616"/>
<g fill="none" stroke="#15130f" stroke-width="1.55" stroke-linecap="round">
<path d="M8.8 273.6 C36 273 60 268 67.3 247.6"/>
<path d="M27 270.4 C52 268.6 80 262.5 89.6 251"/>
<path d="M46.5 274.4 C78 272.6 109 268 115.2 250"/>
<path d="M8.8 274.4 H30" stroke-width="1.6"/>
</g>
</g>
<g filter="url(#soft)">
<path d="M222 329V352.8H240V350.2H224.6V329Z" fill="#2f78a8"/>
<path d="M349 329V352.8H330V350.2H346V329Z" fill="#3b6f92"/>
<rect x="221.6" y="184.6" width="127.4" height="145" fill="#1f8fd1"/>
<rect x="221.6" y="184.6" width="127.4" height="28.4" fill="#2292d5"/>
<rect x="221.6" y="184.6" width="1.6" height="145" fill="#1a73ad"/>
<rect x="346.2" y="184.6" width="2.8" height="145" fill="#1b7bb8"/>
<rect x="221.6" y="184.6" width="127.4" height="1" fill="#1a7fc0"/>
<rect x="223" y="212.8" width="124" height="1.2" fill="#186a9f"/>
<rect x="223" y="214" width="124" height="4" fill="#1c84c4"/>
<rect x="225" y="218" width="121" height="8" fill="#f5841f"/>
<rect x="225" y="226" width="121" height="0.8" fill="#1b79b6"/>
<rect x="221.6" y="328.4" width="127.4" height="1.4" fill="#186a9f"/>
<circle cx="228.6" cy="324.2" r="1.6" fill="#14507d"/>
<circle cx="342.3" cy="324.2" r="1.6" fill="#14507d"/>
<circle cx="341" cy="272.2" r="1.5" fill="#8fd0f4"/>
<path d="M229 228.6 l3.2 0 l1.5 2.2 l1.5 -2.2 l3 0 l-3.2 4.6 l-2.6 0 Z" fill="#e8f4fc"/>
<rect x="229.5" y="231.2" width="6" height="1.6" fill="#cfe9f9"/>
<text x="238.6" y="232.2" font-size="3.6" fill="#8fcdf3" textLength="25" lengthAdjust="spacingAndGlyphs">victron energy</text>
<text x="318" y="223.8" font-size="3.2" fill="#f9b77a" textLength="25" lengthAdjust="spacingAndGlyphs">Blue Power</text>
<text x="237" y="270.6" font-size="7.2" font-weight="bold" fill="#f2f9fe" textLength="26.8" lengthAdjust="spacingAndGlyphs">MultiPlus</text>
<text x="237.4" y="275.9" font-size="4.6" fill="#d9effc" textLength="25.5" lengthAdjust="spacingAndGlyphs">12 | 3000 | 120</text>
<text x="283.5" y="237.4" font-size="3.6" font-weight="bold" fill="#e6f4fd" textLength="12" lengthAdjust="spacingAndGlyphs">charger</text>
<text x="320.5" y="237.4" font-size="3.6" font-weight="bold" fill="#e6f4fd" textLength="13" lengthAdjust="spacingAndGlyphs">inverter</text>
<rect x="283" y="238.6" width="53" height="0.6" fill="#a9d9f5"/>
<rect x="283" y="256.6" width="53" height="0.6" fill="#a9d9f5"/>
<rect x="285" y="239.8" width="2" height="2" fill="#123d66"/>
<rect x="288" y="240.3" width="8" height="1" fill="#9fd3f2"/>
<rect x="321" y="239.8" width="2" height="2" fill="#123d66"/>
<rect x="324" y="240.3" width="11" height="1" fill="#bfe2f7"/>
<rect x="253" y="240.3" width="9" height="0.8" fill="#3d9fdd"/>
<rect x="285" y="244.1" width="2" height="2" fill="#123d66"/>
<rect x="288" y="244.6" width="8" height="1" fill="#9fd3f2"/>
<rect x="321" y="244.1" width="2" height="2" fill="#123d66"/>
<rect x="324" y="244.6" width="11" height="1" fill="#bfe2f7"/>
<rect x="253" y="244.6" width="9" height="0.8" fill="#3d9fdd"/>
<rect x="285" y="248.4" width="2" height="2" fill="#123d66"/>
<rect x="288" y="248.9" width="8" height="1" fill="#9fd3f2"/>
<rect x="321" y="248.4" width="2" height="2" fill="#123d66"/>
<rect x="324" y="248.9" width="11" height="1" fill="#bfe2f7"/>
<rect x="253" y="248.9" width="9" height="0.8" fill="#3d9fdd"/>
<rect x="285" y="252.7" width="2" height="2" fill="#123d66"/>
<rect x="288" y="253.2" width="8" height="1" fill="#9fd3f2"/>
<rect x="321" y="252.7" width="2" height="2" fill="#123d66"/>
<rect x="324" y="253.2" width="11" height="1" fill="#bfe2f7"/>
<rect x="253" y="253.2" width="9" height="0.8" fill="#3d9fdd"/>
<rect x="300.8" y="242.8" width="2.9" height="10.2" fill="#0d1f3f"/>
<rect x="308" y="242.6" width="2" height="1" fill="#9fd3f2"/><rect x="308" y="246.6" width="2" height="1" fill="#9fd3f2"/><rect x="308" y="251.4" width="9" height="1.2" fill="#9fd3f2"/>
<rect x="248" y="240" width="0.6" height="13" fill="#3d9fdd"/><rect x="248" y="240" width="14" height="0.6" fill="#3d9fdd"/>
<rect x="284" y="260" width="51" height="0.8" fill="#4fa9e2"/>
<rect x="284" y="264.4" width="12" height="1" fill="#9fd3f2"/>
<text x="304" y="268.6" font-size="4.6" font-weight="bold" fill="#c3e4f8" textLength="9" lengthAdjust="spacingAndGlyphs">CE</text>
<rect x="321" y="264" width="11" height="3.2" fill="none" stroke="#9fd3f2" stroke-width="0.6"/>
<rect x="284" y="273.2" width="36" height="0.9" fill="#63b6e8"/>
<rect x="284" y="278.4" width="33" height="0.5" fill="#3f9fdc"/>
<path d="M241.3 329.4 a3.1 3.9 0 0 0 6.2 0 Z" fill="#f6f6f6" stroke="#222" stroke-width="0.9"/>
<path d="M242.70000000000002 330.2 a1.7 1.9 0 0 0 3.4 0" fill="none" stroke="#555" stroke-width="0.6"/>
<path d="M250.3 329.4 a3.1 3.9 0 0 0 6.2 0 Z" fill="#f6f6f6" stroke="#222" stroke-width="0.9"/>
<path d="M251.70000000000002 330.2 a1.7 1.9 0 0 0 3.4 0" fill="none" stroke="#555" stroke-width="0.6"/>
<path d="M259.5 329.4 a3.1 3.9 0 0 0 6.2 0 Z" fill="#f6f6f6" stroke="#222" stroke-width="0.9"/>
<path d="M260.90000000000003 330.2 a1.7 1.9 0 0 0 3.4 0" fill="none" stroke="#555" stroke-width="0.6"/>
<path d="M268.7 329.4 a3.1 3.9 0 0 0 6.2 0 Z" fill="#f6f6f6" stroke="#222" stroke-width="0.9"/>
<path d="M270.1 330.2 a1.7 1.9 0 0 0 3.4 0" fill="none" stroke="#555" stroke-width="0.6"/>
<path d="M289.09999999999997 329.4 a3.1 3.9 0 0 0 6.2 0 Z" fill="#f6f6f6" stroke="#222" stroke-width="0.9"/>
<path d="M290.5 330.2 a1.7 1.9 0 0 0 3.4 0" fill="none" stroke="#555" stroke-width="0.6"/>
<path d="M298.09999999999997 329.4 a3.1 3.9 0 0 0 6.2 0 Z" fill="#f6f6f6" stroke="#222" stroke-width="0.9"/>
<path d="M299.5 330.2 a1.7 1.9 0 0 0 3.4 0" fill="none" stroke="#555" stroke-width="0.6"/>
<path d="M307.5 329.4 a3.1 3.9 0 0 0 6.2 0 Z" fill="#f6f6f6" stroke="#222" stroke-width="0.9"/>
<path d="M308.90000000000003 330.2 a1.7 1.9 0 0 0 3.4 0" fill="none" stroke="#555" stroke-width="0.6"/>
<path d="M317.09999999999997 329.4 a3.1 3.9 0 0 0 6.2 0 Z" fill="#f6f6f6" stroke="#222" stroke-width="0.9"/>
<path d="M318.5 330.2 a1.7 1.9 0 0 0 3.4 0" fill="none" stroke="#555" stroke-width="0.6"/>
</g>
<rect x="282.6" y="329.6" width="6" height="10" fill="#000" filter="url(#soft)"/>
<g filter="url(#soft)">
<rect x="414.8" y="183.4" width="72.4" height="66.2" fill="#6fc58d"/>
<rect x="414.8" y="183.4" width="3.4" height="66.2" fill="#63b883"/>
<rect x="483.8" y="183.4" width="3.4" height="66.2" fill="#63b883"/>
<rect x="414.8" y="247.6" width="72.4" height="2" fill="#62b782"/>
<text x="422" y="188.8" font-size="3.4" font-weight="bold" fill="#e9f8ee" textLength="22" lengthAdjust="spacingAndGlyphs">GRID INVERTER</text>
<circle cx="416.5" cy="191" r="0.8" fill="#4a9a68"/>
<circle cx="416.5" cy="242.5" r="0.8" fill="#4a9a68"/>
<circle cx="485.5" cy="191" r="0.8" fill="#4a9a68"/>
<circle cx="485.5" cy="242.5" r="0.8" fill="#4a9a68"/>
<rect x="458.6" y="235" width="12" height="5.2" fill="#2f6b3f"/>
<rect x="460" y="236.4" width="9" height="2.4" fill="#3f8552"/>
<circle cx="455" cy="235.9" r="0.9" fill="#3b8a55"/><circle cx="455" cy="239.3" r="0.9" fill="#3b8a55"/>
</g>
<g filter="url(#soft)">
<g transform="translate(185.50,423.20)"><rect x="4" y="-1.8" width="2.6" height="2" fill="#3a3a3a"/><rect x="30.80" y="-1.8" width="2.6" height="2" fill="#3a3a3a"/><rect x="0" y="0" width="37.00" height="88.60" fill="#ced1d7"/><rect x="0" y="0.6" width="37.00" height="2.4" fill="#bfc2c8"/><rect x="0" y="0" width="37.00" height="0.9" fill="#2a2a2a"/><rect x="3.8" y="5" width="2.4" height="0.8" fill="#8a8d93"/><circle cx="32.40" cy="5.4" r="1" fill="#55585e"/><text x="12.50" y="21.2" font-size="6.8" fill="#3f3fa2" stroke="#3f3fa2" stroke-width="0.25" textLength="13.2" lengthAdjust="spacingAndGlyphs">OpzS</text><path d="M1.6 81.40 h4 l1 1.4 h2.4 l-1.6 2.6 h-3.2 l-0.8 -1.4 h-1.8 Z" fill="#3d3f9e"/><text x="11.4" y="82.00" font-size="3" fill="#5a5c8c" textLength="23" lengthAdjust="spacingAndGlyphs">victron energy</text></g>
<g transform="translate(222.50,423.20)"><rect x="4" y="-1.8" width="2.6" height="2" fill="#3a3a3a"/><rect x="29.90" y="-1.8" width="2.6" height="2" fill="#3a3a3a"/><rect x="0" y="0" width="36.10" height="88.60" fill="#ced1d7"/><rect x="0" y="0.6" width="36.10" height="2.4" fill="#bfc2c8"/><rect x="0" y="0" width="36.10" height="0.9" fill="#2a2a2a"/><rect x="3.8" y="5" width="2.4" height="0.8" fill="#8a8d93"/><circle cx="31.50" cy="5.4" r="1" fill="#55585e"/><text x="12.05" y="21.2" font-size="6.8" fill="#3f3fa2" stroke="#3f3fa2" stroke-width="0.25" textLength="13.2" lengthAdjust="spacingAndGlyphs">OpzS</text><path d="M1.6 81.40 h4 l1 1.4 h2.4 l-1.6 2.6 h-3.2 l-0.8 -1.4 h-1.8 Z" fill="#3d3f9e"/><text x="11.4" y="82.00" font-size="3" fill="#5a5c8c" textLength="23" lengthAdjust="spacingAndGlyphs">victron energy</text></g>
<g transform="translate(258.60,423.20)"><rect x="4" y="-1.8" width="2.6" height="2" fill="#3a3a3a"/><rect x="30.20" y="-1.8" width="2.6" height="2" fill="#3a3a3a"/><rect x="0" y="0" width="36.40" height="88.60" fill="#ced1d7"/><rect x="0" y="0.6" width="36.40" height="2.4" fill="#bfc2c8"/><rect x="0" y="0" width="36.40" height="0.9" fill="#2a2a2a"/><rect x="3.8" y="5" width="2.4" height="0.8" fill="#8a8d93"/><circle cx="31.80" cy="5.4" r="1" fill="#55585e"/><text x="12.20" y="21.2" font-size="6.8" fill="#3f3fa2" stroke="#3f3fa2" stroke-width="0.25" textLength="13.2" lengthAdjust="spacingAndGlyphs">OpzS</text><path d="M1.6 81.40 h4 l1 1.4 h2.4 l-1.6 2.6 h-3.2 l-0.8 -1.4 h-1.8 Z" fill="#3d3f9e"/><text x="11.4" y="82.00" font-size="3" fill="#5a5c8c" textLength="23" lengthAdjust="spacingAndGlyphs">victron energy</text></g>
<g transform="translate(295.00,423.20)"><rect x="4" y="-1.8" width="2.6" height="2" fill="#3a3a3a"/><rect x="29.80" y="-1.8" width="2.6" height="2" fill="#3a3a3a"/><rect x="0" y="0" width="36.00" height="88.60" fill="#ced1d7"/><rect x="0" y="0.6" width="36.00" height="2.4" fill="#bfc2c8"/><rect x="0" y="0" width="36.00" height="0.9" fill="#2a2a2a"/><rect x="3.8" y="5" width="2.4" height="0.8" fill="#8a8d93"/><circle cx="31.40" cy="5.4" r="1" fill="#55585e"/><text x="12.00" y="21.2" font-size="6.8" fill="#3f3fa2" stroke="#3f3fa2" stroke-width="0.25" textLength="13.2" lengthAdjust="spacingAndGlyphs">OpzS</text><path d="M1.6 81.40 h4 l1 1.4 h2.4 l-1.6 2.6 h-3.2 l-0.8 -1.4 h-1.8 Z" fill="#3d3f9e"/><text x="11.4" y="82.00" font-size="3" fill="#5a5c8c" textLength="23" lengthAdjust="spacingAndGlyphs">victron energy</text></g>
<g transform="translate(331.00,423.20)"><rect x="4" y="-1.8" width="2.6" height="2" fill="#3a3a3a"/><rect x="30.00" y="-1.8" width="2.6" height="2" fill="#3a3a3a"/><rect x="0" y="0" width="36.20" height="88.60" fill="#ced1d7"/><rect x="0" y="0.6" width="36.20" height="2.4" fill="#bfc2c8"/><rect x="0" y="0" width="36.20" height="0.9" fill="#2a2a2a"/><rect x="3.8" y="5" width="2.4" height="0.8" fill="#8a8d93"/><circle cx="31.60" cy="5.4" r="1" fill="#55585e"/><text x="12.10" y="21.2" font-size="6.8" fill="#3f3fa2" stroke="#3f3fa2" stroke-width="0.25" textLength="13.2" lengthAdjust="spacingAndGlyphs">OpzS</text><path d="M1.6 81.40 h4 l1 1.4 h2.4 l-1.6 2.6 h-3.2 l-0.8 -1.4 h-1.8 Z" fill="#3d3f9e"/><text x="11.4" y="82.00" font-size="3" fill="#5a5c8c" textLength="23" lengthAdjust="spacingAndGlyphs">victron energy</text></g>
<g transform="translate(367.20,423.20)"><rect x="4" y="-1.8" width="2.6" height="2" fill="#3a3a3a"/><rect x="31.20" y="-1.8" width="2.6" height="2" fill="#3a3a3a"/><rect x="0" y="0" width="37.40" height="88.60" fill="#ced1d7"/><rect x="0" y="0.6" width="37.40" height="2.4" fill="#bfc2c8"/><rect x="0" y="0" width="37.40" height="0.9" fill="#2a2a2a"/><rect x="3.8" y="5" width="2.4" height="0.8" fill="#8a8d93"/><circle cx="32.80" cy="5.4" r="1" fill="#55585e"/><text x="12.70" y="21.2" font-size="6.8" fill="#3f3fa2" stroke="#3f3fa2" stroke-width="0.25" textLength="13.2" lengthAdjust="spacingAndGlyphs">OpzS</text><path d="M1.6 81.40 h4 l1 1.4 h2.4 l-1.6 2.6 h-3.2 l-0.8 -1.4 h-1.8 Z" fill="#3d3f9e"/><text x="11.4" y="82.00" font-size="3" fill="#5a5c8c" textLength="23" lengthAdjust="spacingAndGlyphs">victron energy</text></g>
<rect x="222.0" y="423.2" width="1" height="88.6" fill="#1c1c1c"/>
<rect x="258.1" y="423.2" width="1" height="88.6" fill="#1c1c1c"/>
<rect x="294.65" y="423.2" width="0.7" height="88.6" fill="#8f9298"/>
<rect x="330.5" y="423.2" width="1" height="88.6" fill="#1c1c1c"/>
<rect x="366.84999999999997" y="423.2" width="0.7" height="88.6" fill="#8f9298"/>
<rect x="403.8" y="423.2" width="1" height="88.6" fill="#777a80"/>
<rect x="185.5" y="511" width="219" height="0.9" fill="#8a8d93"/>
<g transform="translate(167.00,446.60)"><rect x="4" y="-1.8" width="2.6" height="2" fill="#3a3a3a"/><rect x="31.10" y="-1.8" width="2.6" height="2" fill="#3a3a3a"/><rect x="0" y="0" width="37.30" height="88.60" fill="#ced1d7"/><rect x="0" y="0.6" width="37.30" height="2.4" fill="#bfc2c8"/><rect x="0" y="0" width="37.30" height="0.9" fill="#2a2a2a"/><rect x="3.8" y="5" width="2.4" height="0.8" fill="#8a8d93"/><circle cx="32.70" cy="5.4" r="1" fill="#55585e"/><text x="12.65" y="21.2" font-size="6.8" fill="#3f3fa2" stroke="#3f3fa2" stroke-width="0.25" textLength="13.2" lengthAdjust="spacingAndGlyphs">OpzS</text><path d="M1.6 81.40 h4 l1 1.4 h2.4 l-1.6 2.6 h-3.2 l-0.8 -1.4 h-1.8 Z" fill="#3d3f9e"/><text x="11.4" y="82.00" font-size="3" fill="#5a5c8c" textLength="23" lengthAdjust="spacingAndGlyphs">victron energy</text></g>
<g transform="translate(204.30,446.60)"><rect x="4" y="-1.8" width="2.6" height="2" fill="#3a3a3a"/><rect x="29.30" y="-1.8" width="2.6" height="2" fill="#3a3a3a"/><rect x="0" y="0" width="35.50" height="88.60" fill="#ced1d7"/><rect x="0" y="0.6" width="35.50" height="2.4" fill="#bfc2c8"/><rect x="0" y="0" width="35.50" height="0.9" fill="#2a2a2a"/><rect x="3.8" y="5" width="2.4" height="0.8" fill="#8a8d93"/><circle cx="30.90" cy="5.4" r="1" fill="#55585e"/><text x="11.75" y="21.2" font-size="6.8" fill="#3f3fa2" stroke="#3f3fa2" stroke-width="0.25" textLength="13.2" lengthAdjust="spacingAndGlyphs">OpzS</text><path d="M1.6 81.40 h4 l1 1.4 h2.4 l-1.6 2.6 h-3.2 l-0.8 -1.4 h-1.8 Z" fill="#3d3f9e"/><text x="11.4" y="82.00" font-size="3" fill="#5a5c8c" textLength="23" lengthAdjust="spacingAndGlyphs">victron energy</text></g>
<g transform="translate(239.80,446.60)"><rect x="4" y="-1.8" width="2.6" height="2" fill="#3a3a3a"/><rect x="31.00" y="-1.8" width="2.6" height="2" fill="#3a3a3a"/><rect x="0" y="0" width="37.20" height="88.60" fill="#ced1d7"/><rect x="0" y="0.6" width="37.20" height="2.4" fill="#bfc2c8"/><rect x="0" y="0" width="37.20" height="0.9" fill="#2a2a2a"/><rect x="3.8" y="5" width="2.4" height="0.8" fill="#8a8d93"/><circle cx="32.60" cy="5.4" r="1" fill="#55585e"/><text x="12.60" y="21.2" font-size="6.8" fill="#3f3fa2" stroke="#3f3fa2" stroke-width="0.25" textLength="13.2" lengthAdjust="spacingAndGlyphs">OpzS</text><path d="M1.6 81.40 h4 l1 1.4 h2.4 l-1.6 2.6 h-3.2 l-0.8 -1.4 h-1.8 Z" fill="#3d3f9e"/><text x="11.4" y="82.00" font-size="3" fill="#5a5c8c" textLength="23" lengthAdjust="spacingAndGlyphs">victron energy</text></g>
<g transform="translate(277.00,446.60)"><rect x="4" y="-1.8" width="2.6" height="2" fill="#3a3a3a"/><rect x="28.60" y="-1.8" width="2.6" height="2" fill="#3a3a3a"/><rect x="0" y="0" width="34.80" height="88.60" fill="#ced1d7"/><rect x="0" y="0.6" width="34.80" height="2.4" fill="#bfc2c8"/><rect x="0" y="0" width="34.80" height="0.9" fill="#2a2a2a"/><rect x="3.8" y="5" width="2.4" height="0.8" fill="#8a8d93"/><circle cx="30.20" cy="5.4" r="1" fill="#55585e"/><text x="11.40" y="21.2" font-size="6.8" fill="#3f3fa2" stroke="#3f3fa2" stroke-width="0.25" textLength="13.2" lengthAdjust="spacingAndGlyphs">OpzS</text><path d="M1.6 81.40 h4 l1 1.4 h2.4 l-1.6 2.6 h-3.2 l-0.8 -1.4 h-1.8 Z" fill="#3d3f9e"/><text x="11.4" y="82.00" font-size="3" fill="#5a5c8c" textLength="23" lengthAdjust="spacingAndGlyphs">victron energy</text></g>
<g transform="translate(311.80,446.60)"><rect x="4" y="-1.8" width="2.6" height="2" fill="#3a3a3a"/><rect x="30.50" y="-1.8" width="2.6" height="2" fill="#3a3a3a"/><rect x="0" y="0" width="36.70" height="88.60" fill="#ced1d7"/><rect x="0" y="0.6" width="36.70" height="2.4" fill="#bfc2c8"/><rect x="0" y="0" width="36.70" height="0.9" fill="#2a2a2a"/><rect x="3.8" y="5" width="2.4" height="0.8" fill="#8a8d93"/><circle cx="32.10" cy="5.4" r="1" fill="#55585e"/><text x="12.35" y="21.2" font-size="6.8" fill="#3f3fa2" stroke="#3f3fa2" stroke-width="0.25" textLength="13.2" lengthAdjust="spacingAndGlyphs">OpzS</text><path d="M1.6 81.40 h4 l1 1.4 h2.4 l-1.6 2.6 h-3.2 l-0.8 -1.4 h-1.8 Z" fill="#3d3f9e"/><text x="11.4" y="82.00" font-size="3" fill="#5a5c8c" textLength="23" lengthAdjust="spacingAndGlyphs">victron energy</text></g>
<g transform="translate(348.50,446.60)"><rect x="4" y="-1.8" width="2.6" height="2" fill="#3a3a3a"/><rect x="30.90" y="-1.8" width="2.6" height="2" fill="#3a3a3a"/><rect x="0" y="0" width="37.10" height="88.60" fill="#ced1d7"/><rect x="0" y="0.6" width="37.10" height="2.4" fill="#bfc2c8"/><rect x="0" y="0" width="37.10" height="0.9" fill="#2a2a2a"/><rect x="3.8" y="5" width="2.4" height="0.8" fill="#8a8d93"/><circle cx="32.50" cy="5.4" r="1" fill="#55585e"/><text x="12.55" y="21.2" font-size="6.8" fill="#3f3fa2" stroke="#3f3fa2" stroke-width="0.25" textLength="13.2" lengthAdjust="spacingAndGlyphs">OpzS</text><path d="M1.6 81.40 h4 l1 1.4 h2.4 l-1.6 2.6 h-3.2 l-0.8 -1.4 h-1.8 Z" fill="#3d3f9e"/><text x="11.4" y="82.00" font-size="3" fill="#5a5c8c" textLength="23" lengthAdjust="spacingAndGlyphs">victron energy</text></g>
<rect x="203.8" y="446.6" width="1" height="88.6" fill="#1c1c1c"/>
<rect x="239.3" y="446.6" width="1" height="88.6" fill="#1c1c1c"/>
<rect x="276.65" y="446.6" width="0.7" height="88.6" fill="#7d8086"/>
<rect x="311.3" y="446.6" width="1" height="88.6" fill="#1c1c1c"/>
<rect x="348.15" y="446.6" width="0.7" height="88.6" fill="#7d8086"/>
<rect x="166.6" y="446.6" width="0.8" height="88.6" fill="#9a9da3"/>
<rect x="385" y="446.6" width="0.9" height="88.6" fill="#777a80"/>
</g>
<g filter="url(#soft)">
<rect x="267.3" y="375.2" width="36.2" height="35.6" rx="2.6" fill="#8b8d90"/>
<rect x="268.3" y="376.2" width="34.2" height="33.6" rx="2" fill="none" stroke="#7d7f82" stroke-width="0.8"/>
<rect x="280.8" y="378.4" width="8.8" height="1.3" fill="#4a4c4f"/>
<rect x="278" y="381.2" width="14.4" height="0.9" fill="#b4b6b8"/>
<rect x="272.8" y="387" width="26.8" height="9.4" fill="#eef3f8"/>
<rect x="273.9" y="388" width="24.6" height="7.4" fill="#2e88d2"/>
<rect x="276" y="390" width="20" height="3" fill="#4a9be0"/>
<circle cx="285.4" cy="393" r="16.6" fill="none" stroke="#97999c" stroke-width="0.9"/>
<path d="M274.4 384 l2.2 0 l0.8 1.2 l0.8 -1.2 h1.4 l-1.7 2.3 h-1.5 Z" fill="#e9ecef"/>
<rect x="280.4" y="384.6" width="6" height="0.8" fill="#6f9fd0"/><rect x="287.2" y="384.6" width="5" height="0.8" fill="#c9786a"/>
<circle cx="276.8" cy="401.5" r="3.6" fill="#fbfbfb"/><circle cx="276.8" cy="401.5" r="1.5" fill="#b9bbbd"/>
<circle cx="293.2" cy="401.3" r="3.6" fill="#fbfbfb"/><circle cx="293.2" cy="401.3" r="1.5" fill="#b9bbbd"/>
<circle cx="285" cy="400.8" r="2" fill="none" stroke="#fbfbfb" stroke-width="1.1"/>
<circle cx="285" cy="405.3" r="2.3" fill="none" stroke="#fbfbfb" stroke-width="1.2"/>
<rect x="280.6" y="397.2" width="8.6" height="0.7" fill="#d77a5a"/>
</g>
<g filter="url(#soft)">
<rect x="388.4" y="344.4" width="64.8" height="69.8" rx="1" fill="#8c9aaa"/>
<rect x="388.4" y="344.4" width="64.8" height="1.2" fill="#a7b2be"/>
<rect x="388.4" y="412.6" width="64.8" height="1.6" fill="#7b8796"/>
<path d="M391 346.4 h2.6 l0.9 1.3 l0.9 -1.3 h1.8 l-2 2.8 h-2.2 Z" fill="#eef2f6"/>
<text x="398" y="349" font-size="3" fill="#b9c6d6" textLength="11" lengthAdjust="spacingAndGlyphs">victron</text>
<rect x="392.4" y="351.4" width="56.4" height="29.8" fill="#f3f6f9"/>
<rect x="393.2" y="352" width="18" height="12.6" fill="#d8453a"/>
<rect x="397" y="354.6" width="10" height="4.6" fill="#e36a5c"/>
<rect x="414" y="352" width="14" height="13.6" fill="#3f7fc6"/>
<path d="M417.4 357.6 h7 l-3.5 4.6 Z" fill="#235a9c"/>
<rect x="417" y="353.6" width="8" height="2.2" fill="#6ea2dd"/>
<rect x="431.4" y="352" width="16.8" height="12.6" fill="#2fae78"/>
<rect x="435" y="356" width="10" height="3.4" fill="#56c595"/>
<rect x="393.2" y="369.6" width="18.4" height="9.8" fill="#3f7fd0"/>
<rect x="396" y="372" width="12" height="3" fill="#6ea2e4"/>
<rect x="414.6" y="369.6" width="13" height="9.8" fill="#3fb7a6"/>
<rect x="414.6" y="369.6" width="13" height="4" fill="#9adbd2"/>
<rect x="431.4" y="368" width="16.8" height="11.4" fill="#3f86cc"/>
<circle cx="442.6" cy="374" r="5.3" fill="#f7932d"/>
<rect x="393.2" y="366" width="10" height="2.2" fill="#c8d4e4"/>
<circle cx="405.6" cy="386.8" r="3.6" fill="#cdd7ea" stroke="#3a58a4" stroke-width="1"/>
<rect x="404.0" y="386.3" width="3.2" height="1" fill="#8296c6"/>
<circle cx="436.6" cy="386.8" r="3.6" fill="#cdd7ea" stroke="#3a58a4" stroke-width="1"/>
<rect x="435.0" y="386.3" width="3.2" height="1" fill="#8296c6"/>
<circle cx="421.6" cy="396.6" r="9.1" fill="#b4c2e0" stroke="#34529f" stroke-width="1.4"/>
<circle cx="421.6" cy="396.6" r="5.6" fill="#ccd6ec" stroke="#3f5eaa" stroke-width="0.9"/>
<path d="M415.4 390.4 L427.8 402.8 M427.8 390.4 L415.4 402.8" stroke="#3f5eaa" stroke-width="0.8"/>
<circle cx="421.6" cy="396.6" r="2.8" fill="#e6ebf5" stroke="#3f5eaa" stroke-width="0.7"/>
<text x="436" y="409.6" font-size="3" fill="#dfe7f1" textLength="14" lengthAdjust="spacingAndGlyphs">Color Control</text>
</g>
<g filter="url(#soft)">
<ellipse cx="474" cy="483" rx="60" ry="1.3" fill="#e9e9e9"/>
<path d="M473 428.5 Q473.2 427.6 474.4 427.4 L534.6 419.8 Q536 419.8 535.9 421 L531 478.6 L463.2 478.2 Z" fill="#1d1e21"/>
<path d="M474.6 430.8 L533.2 423.2 L529.3 475.8 L465.3 475.8 Z" fill="#f7f8fa"/>
<path d="M474.6 430.8 L533.2 423.2 L532.9 426.4 L474 434 Z" fill="#e4e7ea"/>
<path d="M474 434 L532.9 426.4 L531.9 439.4 L471.4 447.2 Z" fill="#a3cfef"/>
<path d="M474 434 L490 432 L488 445.1 L471.4 447.2 Z" fill="#79b8e8"/>
<path d="M500.6 431.6 L510.6 430.3 L510 442.2 L499.8 443.5 Z" fill="#f2f6f9"/>
<path d="M486.6 443.3 L503.8 441.1 L503.7 443.6 L486.4 445.8 Z" fill="#4a4f58"/>
<path d="M478 445.4 L486 444.4 L485.8 446 L477.8 447 Z" fill="#6d8aa6"/>
<path d="M470.5 452 L482 451.4 M469.6 458 L478 457.6" stroke="#d5dbe2" stroke-width="0.8"/>
<rect x="481.6" y="464" width="1.5" height="9" fill="#f1b98a"/><rect x="484" y="466.6" width="1.4" height="6.4" fill="#b5d6f0"/><rect x="486.4" y="462" width="1.3" height="11" fill="#f3c9a6"/>
<rect x="504.6" y="458" width="1.4" height="4.4" fill="#f1b98a"/><rect x="503" y="466" width="6" height="0.8" fill="#d5dbe2"/><rect x="503" y="470" width="6" height="0.8" fill="#d5dbe2"/>
<path d="M416 480.2 Q414.6 479.2 416.8 478.9 L532 478.6 L532.6 479.8 Q531 481.6 522 481.9 L426 482 Q418.4 481.8 416 480.2 Z" fill="#b9bcc0"/>
<path d="M416.8 478.9 L532 478.6 L532.1 479.5 L416.5 479.8 Z" fill="#e6e8ea"/>
<path d="M419 481 Q470 482.6 529 481 L523 482.3 L428 482.5 Z" fill="#6e7175"/>
<rect x="478" y="478.8" width="14" height="1.1" rx="0.5" fill="#9a9da1"/>
</g>
<g filter="url(#soft)">
<rect x="547.2" y="413.4" width="33.8" height="71.6" rx="4.6" fill="#121315"/>
<rect x="547.8" y="414" width="32.6" height="70.4" rx="4.2" fill="none" stroke="#3a3c40" stroke-width="0.7"/>
<rect x="550.2" y="424" width="27.8" height="50.2" fill="#3a3d43"/>
<rect x="550.2" y="424" width="27.8" height="1.6" fill="#1d1e21"/>
<rect x="550.2" y="425.6" width="27.8" height="5.6" fill="#3f86cc"/>
<rect x="553" y="427.6" width="16" height="1.4" fill="#9ec6ec"/>
<rect x="551.6" y="433" width="14" height="1.3" fill="#7d8188"/>
<rect x="570.6" y="431.8" width="5.4" height="3.2" rx="1.6" fill="#55c24a"/>
<rect x="561.4" y="437.4" width="6.2" height="7.4" fill="#4a96e0"/>
<rect x="562.6" y="438.8" width="3.8" height="3" fill="#b5d6f5"/>
<rect x="552.4" y="438.4" width="7" height="1" fill="#6c7077"/><rect x="552.4" y="441" width="7" height="1" fill="#6c7077"/><rect x="552.4" y="443.6" width="7" height="1" fill="#6c7077"/>
<rect x="570" y="438" width="1.6" height="1.6" fill="#c0504a"/><rect x="572.6" y="440.4" width="3.6" height="1" fill="#6c7077"/><rect x="570" y="443" width="1.6" height="1.6" fill="#4fae5a"/>
<rect x="561.8" y="449.6" width="5.4" height="2.6" fill="#c9ccd1"/><rect x="570.4" y="450" width="5" height="1.6" fill="#5e6269"/>
<rect x="562.6" y="455" width="3.6" height="1" fill="#6c7077"/><rect x="562.6" y="458.4" width="3.6" height="1" fill="#6c7077"/><rect x="562.6" y="461.4" width="3.6" height="1" fill="#6c7077"/>
<rect x="551.4" y="465" width="25" height="5.6" rx="0.8" fill="#f47f1f"/>
<rect x="557" y="467.2" width="14" height="1.2" fill="#f9b77a"/>
<circle cx="564" cy="480" r="2.5" fill="#1d1e21" stroke="#4a4c51" stroke-width="0.7"/>
<rect x="561" y="418.6" width="6" height="1.1" rx="0.5" fill="#3a3c40"/><circle cx="564" cy="416.2" r="0.7" fill="#3a3c40"/>
</g>
<g filter="url(#softt)">
<text class="lbl" x="227.5" y="57.3" textLength="154.2" lengthAdjust="spacingAndGlyphs">Солнечные батареи</text>
<text class="lbl" x="198.9" y="161.9" textLength="172.9" lengthAdjust="spacingAndGlyphs">Инвертор напряжения</text>
<text class="lbl" x="189.0" y="177.3" textLength="193.8" lengthAdjust="spacingAndGlyphs">с зарядным устройством</text>
<text class="lbl" x="11.0" y="356.3" textLength="173.4" lengthAdjust="spacingAndGlyphs">Сетевое подключение</text>
<text class="lbl" x="454.9" y="266.5" textLength="139.2" lengthAdjust="spacingAndGlyphs">Сетевой инвертор</text>
<text class="lbl" x="402.7" y="323.9" textLength="195.7" lengthAdjust="spacingAndGlyphs">Выход (переменный ток)</text>
<text class="lbl" x="458.2" y="371.3" textLength="133.6" lengthAdjust="spacingAndGlyphs">Панель контроля</text>
<text class="lbl" x="495.5" y="386.5" textLength="59.7" lengthAdjust="spacingAndGlyphs">(опция)</text>
<text class="lbl" x="236.0" y="551.7" textLength="113.1" lengthAdjust="spacingAndGlyphs">Аккумуляторы</text>
<text class="lbl" x="466.7" y="499.1" textLength="90.9" lengthAdjust="spacingAndGlyphs">Удаленный</text>
<text class="lbl" x="467.5" y="515.0" textLength="91.5" lengthAdjust="spacingAndGlyphs">мониторинг</text>
<text class="lbl" x="441.9" y="531.0" textLength="143.2" lengthAdjust="spacingAndGlyphs">WEB / iOS / Android</text>
</g>
</svg></body></html>
